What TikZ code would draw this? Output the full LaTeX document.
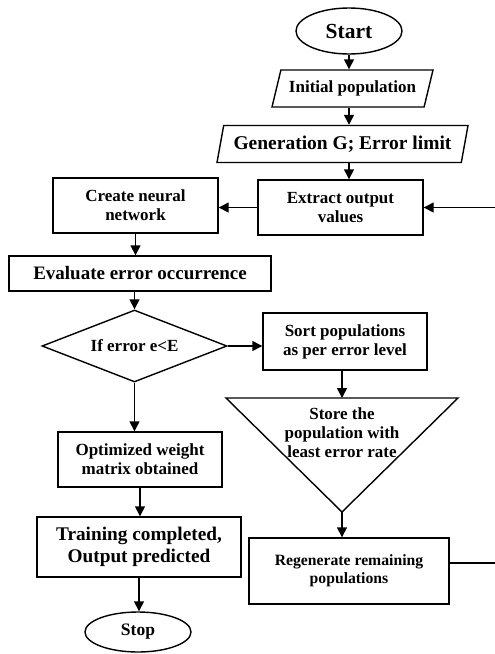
\documentclass[tikz,border=0pt]{standalone}
\usepackage{fontspec}
\setmainfont{Liberation Serif}
\usetikzlibrary{shapes.geometric, arrows.meta, positioning, calc}

\begin{document}
\begin{tikzpicture}[
    x=1pt, y=-1pt,
    base/.style={draw=black, line width=1.4pt, font=\bfseries\fontsize{17pt}{19pt}\selectfont, align=center, inner sep=2pt},
    procbox/.style={base, rectangle},
    iobox/.style={base, trapezium, trapezium stretches body, inner sep=0pt},
    term/.style={base, ellipse, inner sep=0pt},
    decision/.style={base, diamond, inner sep=0pt, aspect=2.5},
    arrow/.style={-{Triangle[length=10pt, width=10pt]}, line width=1.4pt}
]
    \useasboundingbox (0,0) rectangle (495,654);

    \node[term, minimum width=106pt, minimum height=46pt, font=\bfseries\fontsize{21.5pt}{24pt}\selectfont] (start) at (349,31) {Start};
    \node[iobox, trapezium left angle=60, trapezium right angle=120, minimum width=161pt, minimum height=37pt] (init) at (352.5,88.5) {Initial population};
    \node[iobox, trapezium left angle=68, trapezium right angle=112, minimum width=251pt, minimum height=37pt, font=\bfseries\fontsize{19.5pt}{22pt}\selectfont] (gen) at (342.5,144) {Generation G; Error limit};
    \node[procbox, minimum width=165pt, minimum height=55pt] (extract) at (340.5,207.5) {Extract output\\values};
    \node[procbox, minimum width=165pt, minimum height=55pt] (create) at (135.5,205.5) {Create neural\\network};
    \node[procbox, minimum width=262pt, minimum height=35pt, font=\bfseries\fontsize{19pt}{21pt}\selectfont] (eval) at (140,273.5) {Evaluate error occurrence};
    \node[decision, minimum width=185pt, minimum height=72pt] (dia) at (134.5,346) {If error e<E};
    \node[procbox, minimum width=164pt, minimum height=57pt] (sort) at (345,341.5) {Sort populations\\as per error level};
    \draw[line width=1.4pt, line join=miter] (226,398) -- (458,398) -- (342,512) -- cycle;
    \coordinate (storetop) at (342,398);
    \coordinate (storetip) at (342,512);
    \node[font=\bfseries\fontsize{17pt}{19pt}\selectfont, align=center] (store) at (342,433) {Store the\\population with\\least error rate};
    \node[procbox, minimum width=164pt, minimum height=55pt] (opt) at (140,459.5) {Optimized weight\\matrix obtained};
    \node[procbox, minimum width=204pt, minimum height=60pt, font=\bfseries\fontsize{19.3pt}{21.5pt}\selectfont] (train) at (139,547) {Training completed,\\Output predicted};
    \node[procbox, minimum width=200pt, minimum height=66pt, font=\bfseries\fontsize{15.7pt}{18pt}\selectfont] (regen) at (349,571) {Regenerate remaining\\populations};
    \node[term, minimum width=106pt, minimum height=40pt, font=\bfseries\fontsize{17.5pt}{20pt}\selectfont] (stop) at (138,632) {Stop};

    \draw[arrow] (start) -- (start |- init.north);
    \draw[arrow] (init.south -| start) -- (start |- gen.north);
    \draw[arrow] (gen.south -| start) -- (start |- extract.north);
    \draw[arrow] (extract.west) -- (extract.west -| create.east);
    \draw[arrow] ([yshift=8pt]regen.east) -- ++(60,0) |- (extract.east);
    \draw[arrow] (create) -- (create |- eval.north);
    \draw[arrow] (dia |- eval.south) -- (dia);
    \draw[arrow] (dia.east) -- (dia.east -| sort.west);
    \draw[arrow] (dia.south) -- (dia.south |- opt.north);
    \draw[arrow] (opt) -- (opt |- train.north);
    \draw[arrow] (train) -- (train |- stop.north);
    \draw[arrow] (sort.south -| storetop) -- (storetop);
    \draw[arrow] (storetip) -- (storetip |- regen.north);
\end{tikzpicture}
\end{document}
